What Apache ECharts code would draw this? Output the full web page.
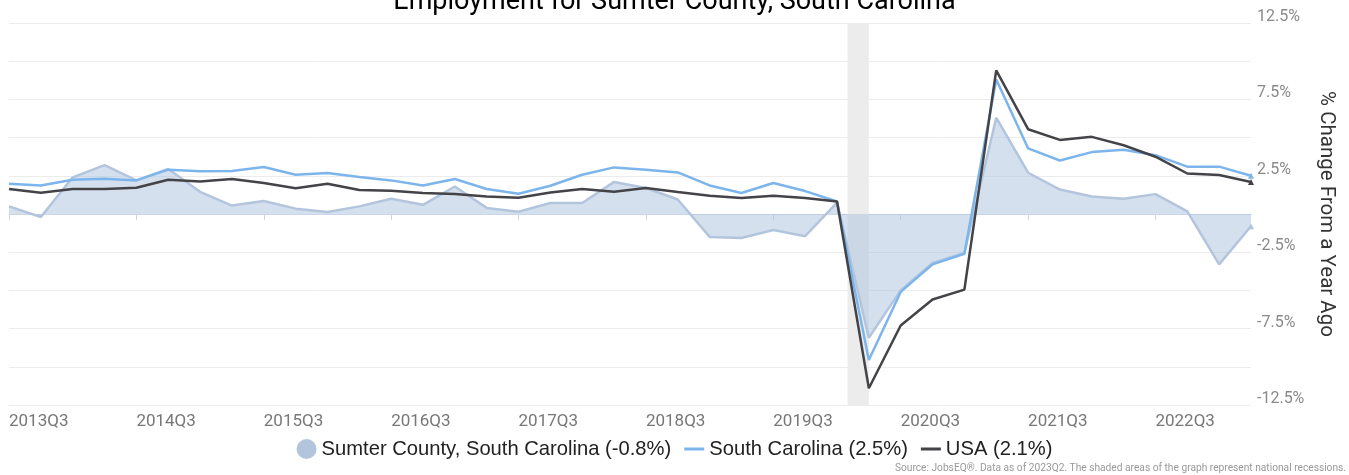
<!DOCTYPE html>
<html>
<head>
<meta charset="utf-8">
<script src="https://cdn.jsdelivr.net/npm/echarts@6/dist/echarts.min.js"></script>
<style>
  html, body { margin: 0; padding: 0; background: #fff; }
  #chart { width: 1349px; height: 475px; }
</style>
</head>
<body>
<div id="chart"></div>
<script>
// quarters 2013Q3 .. 2023Q2
const quarters = [
  '2013Q3','2013Q4','2014Q1','2014Q2','2014Q3','2014Q4','2015Q1','2015Q2',
  '2015Q3','2015Q4','2016Q1','2016Q2','2016Q3','2016Q4','2017Q1','2017Q2',
  '2017Q3','2017Q4','2018Q1','2018Q2','2018Q3','2018Q4','2019Q1','2019Q2',
  '2019Q3','2019Q4','2020Q1','2020Q2','2020Q3','2020Q4','2021Q1','2021Q2',
  '2021Q3','2021Q4','2022Q1','2022Q2','2022Q3','2022Q4','2023Q1','2023Q2'
];

const sumter = [
  0.5, -0.2, 2.4, 3.2, 2.2, 2.95, 1.45, 0.55,
  0.85, 0.35, 0.13, 0.5, 1.0, 0.6, 1.8, 0.4,
  0.15, 0.72, 0.72, 2.1, 1.7, 0.95, -1.5, -1.57,
  -1.05, -1.45, 0.75, -8.1, -5.0, -3.2, -2.55, 6.3,
  2.7, 1.6, 1.15, 1.0, 1.3, 0.17, -3.3, -0.8
];

const southCarolina = [
  1.98, 1.87, 2.24, 2.31, 2.2, 2.9, 2.79, 2.81,
  3.08, 2.57, 2.68, 2.42, 2.2, 1.87, 2.29, 1.64,
  1.33, 1.85, 2.57, 3.05, 2.9, 2.72, 1.87, 1.37,
  2.03, 1.5, 0.82, -9.55, -5.1, -3.3, -2.6, 8.8,
  4.3, 3.5, 4.05, 4.2, 3.85, 3.1, 3.1, 2.5
];

const usa = [
  1.64, 1.39, 1.64, 1.64, 1.72, 2.24, 2.13, 2.29,
  2.03, 1.68, 1.98, 1.57, 1.52, 1.37, 1.31, 1.15,
  1.07, 1.41, 1.64, 1.46, 1.7, 1.44, 1.2, 1.05,
  1.2, 1.05, 0.82, -11.4, -7.3, -5.6, -4.95, 9.4,
  5.55, 4.85, 5.05, 4.5, 3.75, 2.65, 2.55, 2.1
];

// national recession (quarter index positions)
const recession = [26.33, 27];

const legendNames = [
  'Sumter County, South Carolina (-0.8%)',
  'South Carolina (2.5%)',
  'USA (2.1%)'
];

function pairs(arr) {
  return arr.map((v, i) => {
    if (i === arr.length - 1) {
      return { value: [i, v], symbol: 'triangle', symbolSize: 6 };
    }
    return [i, v];
  });
}

const lineIcon = 'path://M0,0 L20,0 L20,3 L0,3 Z';

const chart = echarts.init(document.getElementById('chart'));

const option = {
  backgroundColor: '#fff',
  animation: false,
  title: {
    text: 'Employment for Sumter County, South Carolina',
    left: 'center',
    top: -16,
    textStyle: { fontFamily: 'Roboto', fontSize: 27, fontWeight: 'normal', color: '#000' }
  },
  grid: { left: 9, right: 98, top: 23, bottom: 70 },
  legend: {
    bottom: 11,
    left: 'center',
    itemWidth: 20,
    itemHeight: 20,
    itemGap: 13,
    textStyle: { fontFamily: 'Liberation Sans', fontSize: 20.2, color: '#222' },
    data: [
      { name: legendNames[0], icon: 'circle' },
      { name: legendNames[1], icon: lineIcon },
      { name: legendNames[2], icon: lineIcon }
    ]
  },
  xAxis: {
    type: 'value',
    min: 0,
    max: quarters.length - 1,
    interval: 4,
    axisLine: { lineStyle: { color: '#ccd6eb', width: 1 } },
    axisTick: { show: true, length: 6, lineStyle: { color: '#ccd6eb' } },
    splitLine: { show: false },
    axisLabel: {
      align: 'left',
      margin: 8,
      showMaxLabel: false,
      fontFamily: 'Roboto',
      fontSize: 17,
      color: '#777',
      formatter: v => (v % 4 === 0 ? quarters[v] : '')
    }
  },
  yAxis: {
    type: 'value',
    position: 'right',
    min: -12.5,
    max: 12.5,
    interval: 2.5,
    name: '% Change From a Year Ago',
    nameLocation: 'middle',
    nameRotate: -90,
    nameGap: 54,
    nameTextStyle: { fontFamily: 'Roboto', fontSize: 20.5, color: '#333' },
    axisLine: { show: false },
    axisTick: { show: false },
    splitLine: { lineStyle: { color: '#ececec', width: 1 } },
    axisLabel: {
      margin: 6,
      verticalAlign: 'bottom',
      lineHeight: 12,
      fontFamily: 'Roboto',
      fontSize: 16,
      color: '#8a8a8a',
      formatter: v => (Math.abs(Math.round(v * 10) % 50) === 25 ? v + '%' : '')
    }
  },
  series: [
    {
      name: 'recession',
      type: 'line',
      data: [],
      z: 1,
      silent: true,
      markArea: {
        silent: true,
        itemStyle: { color: '#ececec' },
        data: [[{ xAxis: recession[0] }, { xAxis: recession[1] }]]
      }
    },
    {
      name: legendNames[0],
      type: 'line',
      z: 2,
      data: pairs(sumter),
      symbol: 'none',
      showSymbol: true,
      color: '#b3c5dc',
      lineStyle: { color: '#b3c5dc', width: 2.5 },
      areaStyle: { color: 'rgba(176,196,222,0.75)', origin: 0 }
    },
    {
      name: legendNames[1],
      type: 'line',
      z: 3,
      data: pairs(southCarolina),
      symbol: 'none',
      showSymbol: true,
      color: '#7cb5ec',
      lineStyle: { color: '#7cb5ec', width: 2.5 }
    },
    {
      name: legendNames[2],
      type: 'line',
      z: 4,
      data: pairs(usa),
      symbol: 'none',
      showSymbol: true,
      color: '#434348',
      lineStyle: { color: '#434348', width: 2.5 }
    }
  ],
  graphic: [
    {
      type: 'text',
      right: 3,
      bottom: 2,
      style: {
        text: 'Source: JobsEQ®. Data as of 2023Q2. The shaded areas of the graph represent national recessions.',
        fontFamily: 'Roboto',
        fontSize: 10.2,
        fill: '#999'
      }
    }
  ]
};

chart.setOption(option);
</script>
</body>
</html>
